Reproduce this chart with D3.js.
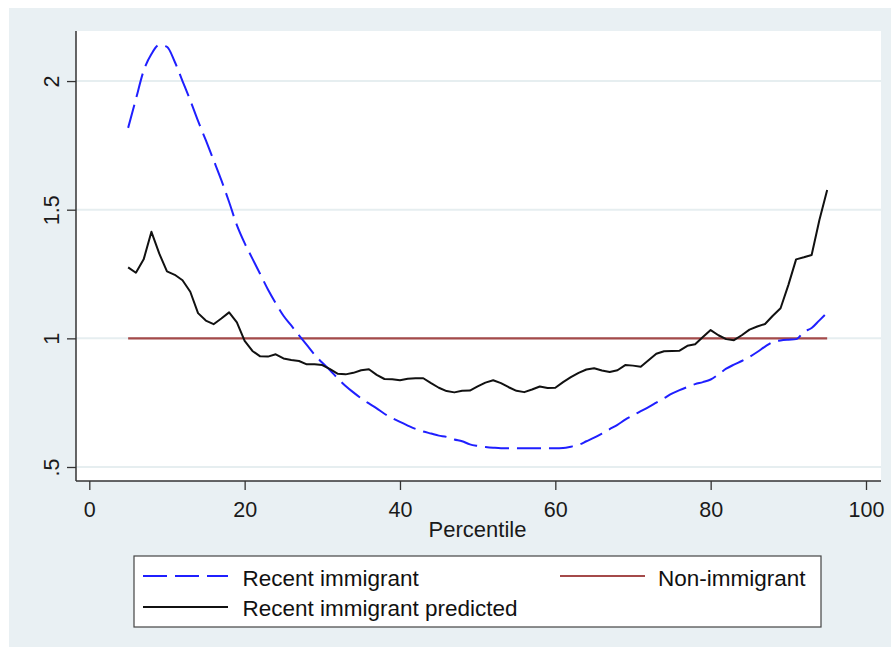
<!DOCTYPE html>
<html>
<head>
<meta charset="utf-8">
<script src="https://cdn.jsdelivr.net/npm/d3@7"></script>
<style>
  html, body { margin: 0; padding: 0; background: #ffffff; }
  svg { display: block; font-family: "Liberation Sans", Arial, sans-serif; }
</style>
</head>
<body>
<svg id="chart" width="891" height="652"></svg>
<script>
// Percentiles covered by the series
const percentiles = [
  5, 6, 7, 8, 9, 10, 11, 12, 13, 14, 15, 16, 17, 18, 19, 20, 21, 22, 23, 24,
  25, 26, 27, 28, 29, 30, 31, 32, 33, 34, 35, 36, 37, 38, 39, 40, 41, 42, 43, 44,
  45, 46, 47, 48, 49, 50, 51, 52, 53, 54, 55, 56, 57, 58, 59, 60, 61, 62, 63, 64,
  65, 66, 67, 68, 69, 70, 71, 72, 73, 74, 75, 76, 77, 78, 79, 80, 81, 82, 83, 84,
  85, 86, 87, 88, 89, 90, 91, 92, 93, 94, 95
];

// Recent immigrant (observed ratio)
const recentImmigrant = [
  1.818, 1.930, 2.040, 2.105, 2.140, 2.133, 2.075, 2.000, 1.925, 1.845,
  1.770, 1.693, 1.615, 1.530, 1.440, 1.370, 1.310, 1.250, 1.190, 1.137,
  1.088, 1.050, 1.012, 0.975, 0.937, 0.905, 0.876, 0.844, 0.815, 0.790,
  0.767, 0.747, 0.728, 0.707, 0.690, 0.675, 0.661, 0.648, 0.638, 0.630,
  0.622, 0.617, 0.607, 0.600, 0.588, 0.582, 0.578, 0.575, 0.573, 0.573,
  0.573, 0.573, 0.573, 0.573, 0.573, 0.573, 0.574, 0.579, 0.586, 0.600,
  0.614, 0.630, 0.647, 0.664, 0.684, 0.701, 0.717, 0.733, 0.750, 0.767,
  0.785, 0.799, 0.811, 0.822, 0.830, 0.840, 0.860, 0.882, 0.898, 0.912,
  0.928, 0.947, 0.968, 0.986, 0.992, 0.995, 0.997, 1.025, 1.040, 1.070,
  1.100
];

// Recent immigrant (predicted ratio)
const recentPredicted = [
  1.276, 1.255, 1.307, 1.414, 1.330, 1.260, 1.247, 1.226, 1.181, 1.098,
  1.069, 1.055, 1.077, 1.101, 1.062, 0.990, 0.951, 0.930, 0.929, 0.938,
  0.922, 0.916, 0.912, 0.899, 0.899, 0.896, 0.880, 0.862, 0.860, 0.866,
  0.876, 0.880, 0.858, 0.842, 0.841, 0.837, 0.843, 0.845, 0.845, 0.826,
  0.808, 0.795, 0.790, 0.796, 0.797, 0.813, 0.828, 0.837, 0.826, 0.810,
  0.796, 0.791, 0.801, 0.813, 0.807, 0.808, 0.830, 0.849, 0.866, 0.879,
  0.884, 0.875, 0.869, 0.876, 0.896, 0.894, 0.890, 0.915, 0.940, 0.950,
  0.951, 0.952, 0.971, 0.977, 1.005, 1.032, 1.012, 0.997, 0.993, 1.012,
  1.034, 1.046, 1.056, 1.088, 1.117, 1.207, 1.307, 1.315, 1.324, 1.460,
  1.577
];

// Non-immigrant reference level
const nonImmigrantPct = [5, 95];
const nonImmigrant = [1, 1];

// Axis ticks
const xTicks = [0, 20, 40, 60, 80, 100];
const xTickLabels = ["0", "20", "40", "60", "80", "100"];
const yTicks = [0.5, 1, 1.5, 2];
const yTickLabels = [".5", "1", "1.5", "2"];

const seriesNames = ["Recent immigrant", "Non-immigrant", "Recent immigrant predicted"];

const svg = d3.select("#chart");

// Graph region background
svg.append("rect")
  .attr("x", 9).attr("y", 8)
  .attr("width", 882).attr("height", 639)
  .attr("fill", "#e9f0f3");

// Plot region
const plot = { left: 76, right: 881, top: 31, bottom: 481 };
svg.append("rect")
  .attr("x", plot.left).attr("y", plot.top)
  .attr("width", plot.right - plot.left).attr("height", plot.bottom - plot.top)
  .attr("fill", "#ffffff");

const x = d3.scaleLinear().domain([0, 100]).range([89.3, 866]);
const y = d3.scaleLinear().domain([0.5, 2]).range([467, 81.05]);

// Horizontal grid lines
svg.append("g").selectAll("line")
  .data(yTicks)
  .join("line")
  .attr("x1", plot.left).attr("x2", plot.right)
  .attr("y1", d => y(d)).attr("y2", d => y(d))
  .attr("stroke", "#e6eef0")
  .attr("stroke-width", 2);

// Axes
const yAxis = d3.axisLeft(y)
  .tickValues(yTicks)
  .tickFormat((d, i) => yTickLabels[i])
  .tickSize(9)
  .tickSizeOuter(0);
const gy = svg.append("g")
  .attr("transform", `translate(${plot.left},0)`)
  .call(yAxis);
gy.select(".domain").remove();
gy.selectAll(".tick line").attr("stroke", "#333").attr("stroke-width", 1.3);
gy.selectAll(".tick text")
  .attr("x", null).attr("dy", null)
  .attr("transform", "translate(-17,0) rotate(-90)")
  .attr("text-anchor", "middle")
  .attr("fill", "#1a1a1a")
  .style("font-size", "21.5px")
  .style("font-family", "'Liberation Sans', Arial, sans-serif");

const xAxis = d3.axisBottom(x)
  .tickValues(xTicks)
  .tickFormat((d, i) => xTickLabels[i])
  .tickSize(9)
  .tickSizeOuter(0);
const gx = svg.append("g")
  .attr("transform", `translate(0,${plot.bottom})`)
  .call(xAxis);
gx.select(".domain").remove();
gx.selectAll(".tick line").attr("stroke", "#333").attr("stroke-width", 1.3);
gx.selectAll(".tick text")
  .attr("y", 35.5).attr("dy", null)
  .attr("fill", "#1a1a1a")
  .style("font-size", "21.5px")
  .style("font-family", "'Liberation Sans', Arial, sans-serif");

// Axis lines
svg.append("line")
  .attr("x1", plot.left).attr("x2", plot.left)
  .attr("y1", plot.top).attr("y2", plot.bottom)
  .attr("stroke", "#333").attr("stroke-width", 1.5);
svg.append("line")
  .attr("x1", plot.left).attr("x2", plot.right)
  .attr("y1", plot.bottom).attr("y2", plot.bottom)
  .attr("stroke", "#333").attr("stroke-width", 1.5);

// Axis title
svg.append("text")
  .attr("x", 477.5).attr("y", 536.5)
  .attr("text-anchor", "middle")
  .attr("fill", "#1a1a1a")
  .style("font-size", "22px")
  .text("Percentile");

// Series
const line = d3.line()
  .x(d => x(d[0]))
  .y(d => y(d[1]));

const redColor = "#a44a4a";
const blueColor = "#1f1fff";
const blackColor = "#111111";
const dash = "24,8";

svg.append("path")
  .datum(d3.zip(nonImmigrantPct, nonImmigrant))
  .attr("d", line)
  .attr("fill", "none")
  .attr("stroke", redColor)
  .attr("stroke-width", 2.2);

svg.append("path")
  .datum(d3.zip(percentiles, recentImmigrant))
  .attr("d", line.curve(d3.curveMonotoneX))
  .attr("fill", "none")
  .attr("stroke", blueColor)
  .attr("stroke-width", 2)
  .attr("stroke-dasharray", dash);

svg.append("path")
  .datum(d3.zip(percentiles, recentPredicted))
  .attr("d", d3.line().x(d => x(d[0])).y(d => y(d[1])))
  .attr("fill", "none")
  .attr("stroke", blackColor)
  .attr("stroke-width", 2)
  .attr("stroke-linejoin", "round");

// Legend
const legend = svg.append("g");
legend.append("rect")
  .attr("x", 134).attr("y", 556)
  .attr("width", 687).attr("height", 71)
  .attr("fill", "#ffffff")
  .attr("stroke", "#444")
  .attr("stroke-width", 1.2);

const legendItems = [
  { name: seriesNames[0], color: blueColor, dash: dash, kx: 143, tx: 242.5, ky: 576, ty: 585.5 },
  { name: seriesNames[1], color: redColor, dash: null, kx: 560, tx: 658, ky: 576, ty: 585.5 },
  { name: seriesNames[2], color: blackColor, dash: null, kx: 143, tx: 242.5, ky: 607, ty: 616 }
];

legendItems.forEach(item => {
  legend.append("line")
    .attr("x1", item.kx).attr("x2", item.kx + 85)
    .attr("y1", item.ky).attr("y2", item.ky)
    .attr("stroke", item.color)
    .attr("stroke-width", 2)
    .attr("stroke-dasharray", item.dash);
  legend.append("text")
    .attr("x", item.tx).attr("y", item.ty)
    .attr("fill", "#111")
    .style("font-size", "22.5px")
    .text(item.name);
});
</script>
</body>
</html>
